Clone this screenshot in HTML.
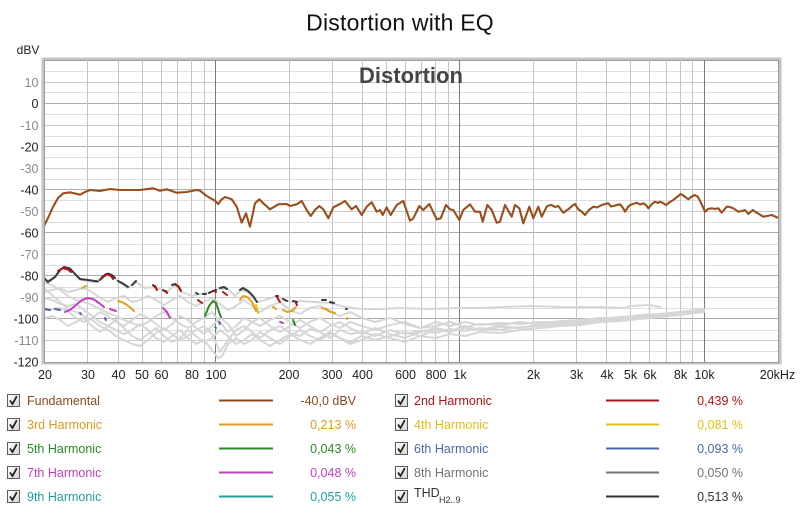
<!DOCTYPE html>
<html><head><meta charset="utf-8"><style>
html,body{margin:0;padding:0;background:#fff;}
svg{display:block;font-family:"Liberation Sans",Arial,sans-serif;}
</style></head><body>
<svg width="800" height="516" viewBox="0 0 800 516" xmlns="http://www.w3.org/2000/svg">
<defs>
<clipPath id="pc"><rect x="45" y="60" width="733" height="302"/></clipPath>
<linearGradient id="cb" x1="0" y1="0" x2="1" y2="1"><stop offset="0" stop-color="#ffffff"/><stop offset="1" stop-color="#d4d4d4"/></linearGradient>
<g id="chk"><rect x="0.5" y="0.5" width="12" height="12" fill="url(#cb)" stroke="#5a5a5a" stroke-width="1"/><path d="M3,6.5 L5.5,10 L9.8,2.2" fill="none" stroke="#222" stroke-width="1.8"/></g>
</defs>
<rect width="800" height="516" fill="#fff"/>
<text x="400" y="30.5" font-size="23" text-anchor="middle" fill="#111" letter-spacing="0.2">Distortion with EQ</text>
<text x="28" y="54" font-size="12" text-anchor="middle" fill="#222">dBV</text>

<!-- frame -->
<rect x="43" y="59" width="737" height="304" fill="none" stroke="#c4c4c4" stroke-width="3"/>
<rect x="44.5" y="60.5" width="734" height="302" fill="#fff" stroke="#9a9a9a" stroke-width="1"/>

<!-- horizontal grid -->
<g stroke-width="1" shape-rendering="crispEdges">
<g stroke="#dedede">
<line x1="45" x2="778" y1="71.5" y2="71.5"/><line x1="45" x2="778" y1="92.5" y2="92.5"/><line x1="45" x2="778" y1="114.5" y2="114.5"/><line x1="45" x2="778" y1="136.5" y2="136.5"/><line x1="45" x2="778" y1="157.5" y2="157.5"/><line x1="45" x2="778" y1="179.5" y2="179.5"/><line x1="45" x2="778" y1="200.5" y2="200.5"/><line x1="45" x2="778" y1="222.5" y2="222.5"/><line x1="45" x2="778" y1="244.5" y2="244.5"/><line x1="45" x2="778" y1="265.5" y2="265.5"/><line x1="45" x2="778" y1="287.5" y2="287.5"/><line x1="45" x2="778" y1="308.5" y2="308.5"/><line x1="45" x2="778" y1="330.5" y2="330.5"/><line x1="45" x2="778" y1="351.5" y2="351.5"/>
</g>
<g stroke="#cbcbcb">
<line x1="45" x2="778" y1="82.5" y2="82.5"/><line x1="45" x2="778" y1="125.5" y2="125.5"/><line x1="45" x2="778" y1="168.5" y2="168.5"/><line x1="45" x2="778" y1="211.5" y2="211.5"/><line x1="45" x2="778" y1="254.5" y2="254.5"/><line x1="45" x2="778" y1="297.5" y2="297.5"/><line x1="45" x2="778" y1="340.5" y2="340.5"/>
</g>
<g stroke="#acacac">
<line x1="45" x2="778" y1="103.5" y2="103.5"/><line x1="45" x2="778" y1="146.5" y2="146.5"/><line x1="45" x2="778" y1="189.5" y2="189.5"/><line x1="45" x2="778" y1="232.5" y2="232.5"/><line x1="45" x2="778" y1="275.5" y2="275.5"/><line x1="45" x2="778" y1="318.5" y2="318.5"/>
</g>
<!-- vertical grid -->
<g stroke="#c4c4c4">
<line x1="87.5" x2="87.5" y1="60" y2="362"/><line x1="118.5" x2="118.5" y1="60" y2="362"/><line x1="142.5" x2="142.5" y1="60" y2="362"/><line x1="161.5" x2="161.5" y1="60" y2="362"/><line x1="177.5" x2="177.5" y1="60" y2="362"/><line x1="191.5" x2="191.5" y1="60" y2="362"/><line x1="204.5" x2="204.5" y1="60" y2="362"/>
<line x1="289.5" x2="289.5" y1="60" y2="362"/><line x1="332.5" x2="332.5" y1="60" y2="362"/><line x1="362.5" x2="362.5" y1="60" y2="362"/><line x1="386.5" x2="386.5" y1="60" y2="362"/><line x1="405.5" x2="405.5" y1="60" y2="362"/><line x1="421.5" x2="421.5" y1="60" y2="362"/><line x1="435.5" x2="435.5" y1="60" y2="362"/><line x1="448.5" x2="448.5" y1="60" y2="362"/>
<line x1="533.5" x2="533.5" y1="60" y2="362"/><line x1="576.5" x2="576.5" y1="60" y2="362"/><line x1="606.5" x2="606.5" y1="60" y2="362"/><line x1="630.5" x2="630.5" y1="60" y2="362"/><line x1="649.5" x2="649.5" y1="60" y2="362"/><line x1="666.5" x2="666.5" y1="60" y2="362"/><line x1="680.5" x2="680.5" y1="60" y2="362"/><line x1="692.5" x2="692.5" y1="60" y2="362"/>
</g>
<g stroke="#7a7a7a">
<line x1="215.5" x2="215.5" y1="60" y2="362"/><line x1="459.5" x2="459.5" y1="60" y2="362"/><line x1="704.5" x2="704.5" y1="60" y2="362"/>
</g>
</g>

<text x="411" y="83" font-size="22" font-weight="bold" text-anchor="middle" fill="#454545">Distortion</text>

<g clip-path="url(#pc)" fill="none" stroke-linejoin="round" stroke-linecap="round">
<!-- gray harmonic curves -->
<g stroke="#d6d6d6" stroke-width="2">
<polyline points="45,282 55,277 63,268 70,269 80,280 95,282 104,276 110,274 118,281 128,288 136,282 145,288 155,287 167,292 175,285 182,292 192,296 200,294 210,292 218,289 228,289 235,296 241,290 250,293 257,302 265,300 277,296 290,302 300,301 315,302 330,303 345,307 362,309 380,309 400,308 430,309 459,308 480,308 500,307 533,306 560,307 576,307 600,307 625,308 630,306 650,305 660,307"/>
<polyline points="45,289 52,295 60,302 68,309 76,312 84,316 92,320 100,326 108,330 116,336 124,340 132,344 140,346 148,340 156,333 164,328 172,334 180,340 188,336 196,330 204,326 212,334 220,352 228,340 236,330 244,326 252,332 260,338 270,330 280,326 290,333 300,336 310,329 320,332 330,338 340,330 350,334 362,332 375,336 390,330 405,334 420,331 436,333 450,329 465,331 480,328 500,330 520,327 540,326 560,324 580,322 600,321 620,319 640,317 660,316 680,313 704,311"/>
<polyline points="45,283 52,285 60,290 68,296 76,300 84,302 92,305 100,309 108,313 116,316 124,320 132,323 140,326 148,322 156,316 164,312 172,318 180,324 188,328 196,322 204,318 212,312 220,322 228,332 236,326 244,318 252,322 260,326 270,320 280,316 290,322 300,328 310,322 320,318 330,324 340,328 350,322 362,326 375,330 390,325 405,322 420,328 436,326 450,322 465,327 480,324 500,325 520,322 540,324 560,321 580,320 600,318 620,318 640,315 660,314 680,312 704,310"/>
<polyline points="45,310 52,309 60,308 68,311 76,318 84,322 92,318 100,312 108,316 116,322 124,326 132,320 140,314 148,318 156,324 164,330 172,324 180,316 188,320 196,328 204,334 212,326 220,318 228,324 236,336 244,330 252,322 260,318 270,326 280,332 290,326 300,320 310,326 320,332 330,326 340,322 350,328 362,334 375,328 390,334 405,338 420,332 436,328 450,331 465,326 480,330 500,327 520,328 540,325 560,325 580,323 600,320 620,320 640,318 660,316 680,314 704,312"/>
<polyline points="45,298 52,300 60,304 68,306 76,304 84,310 92,316 100,322 108,326 116,330 124,334 132,330 140,324 148,330 156,338 164,342 172,336 180,330 188,338 196,344 204,340 212,350 218,358 222,356 228,344 236,338 244,344 252,340 260,332 270,338 280,344 290,336 300,330 310,336 320,340 330,334 340,338 350,342 362,336 375,340 390,336 405,332 420,336 436,330 450,332 465,328 480,330 500,326 520,328 540,324 560,322 580,322 600,320 620,318 640,316 660,315 680,313 704,311"/>
<polyline points="45,292 52,290 60,288 68,292 76,290 84,288 92,292 100,298 108,302 116,298 124,296 132,302 140,300 148,296 156,300 164,305 172,300 180,296 188,302 196,306 204,302 212,298 220,304 228,310 236,306 244,300 252,306 260,312 270,306 280,302 290,310 300,314 310,308 320,306 330,312 340,316 350,312 362,318 375,322 390,318 405,324 420,328 436,322 450,326 465,322 480,325 500,323 520,324 540,322 560,322 580,320 600,319 620,317 640,316 660,314 680,312 704,309"/>
<polyline points="45,318 52,316 60,320 68,326 76,322 84,318 92,326 100,332 108,326 116,320 124,328 132,336 140,340 148,334 156,328 164,336 172,342 180,338 188,330 196,336 204,342 212,338 220,330 228,336 236,344 244,340 252,334 260,340 270,346 280,340 290,334 300,340 310,344 320,338 330,332 340,338 350,344 362,340 375,334 390,338 405,342 420,336 436,338 450,334 465,336 480,332 500,333 520,330 540,328 560,326 580,325 600,322 620,321 640,319 660,317 680,315 704,312"/>
</g>

<!-- colored segments -->
<g stroke-width="2">
<g stroke="#3a3a3a">
<polyline points="45,279 48,282 55,277 60,270 64,267 70,268.5 75,274 80,279 88,280 98,281.5"/>
<polyline points="100,280 103,277 108,273.5 112,275 115,278"/>
<polyline points="118,281 122,283 128,287"/>
<polyline points="132,285 136,281"/>
<polyline points="153,285 156,288"/>
<polyline points="163,290 166,292"/>
<polyline points="172,285 175,284 178,286 181,291"/>
<polyline points="196,293 198,294"/><polyline points="203,294 206,294"/>
<polyline points="209,293 213,291 216,290"/>
<polyline points="220,288 224,287 227,289"/>
<polyline points="240,290 243,288 248,291 253,296 257,302"/>
<polyline points="276,296 278,296"/><polyline points="283,299 287,301"/><polyline points="293,301 297,302"/>
<polyline points="322,300 326,300"/><polyline points="330,302 334,303"/><polyline points="346,309 347,309"/>
</g>
<g stroke="#b01414">
<polyline points="58,271 63,268 68,269.5 71,272"/>
<polyline points="102,277 106,274 111,276 113,279"/>
<polyline points="155,286 157,290"/>
<polyline points="176,285 179,287 181,291"/>
<polyline points="166,291 167,293"/>
<polyline points="198,300 202,303"/>
<polyline points="214,291 216,292"/>
<polyline points="223,292 227,295"/>
<polyline points="277,297 280,302"/>
<polyline points="296,303 297,305"/>
</g>
<g stroke="#e0a020">
<polyline points="82,288 86,286"/>
<polyline points="118,301 122,302 127,305 131,308 134,311"/>
<polyline points="240,300 243,296 247,297 252,302 256,311"/>
<polyline points="273,307 276,309"/><polyline points="283,310 287,312 292,311 296,307"/>
<polyline points="322,308 326,309 331,312 335,313"/>
<polyline points="347,318 347,319"/>
</g>
<g stroke="#e0c010">
<polyline points="256,305 258,313"/>
</g>
<g stroke="#2a8a2a">
<polyline points="205,316 209,306 213,301 216,303 219,312 221,317"/>
<polyline points="293,320 295,325"/>
</g>
<g stroke="#c040c0">
<polyline points="65,312 70,310 76,305 82,300 88,298 94,299.5 99,303 104,307"/>
<polyline points="110,309 116,311"/>
<polyline points="163,308 167,312 170,318"/>
<polyline points="280,322 283,323"/>
</g>
<g stroke="#4a68a8">
<polyline points="45,309 50,310"/><polyline points="55,309 60,310"/><polyline points="80,313 81,314"/><polyline points="105,318 106,320"/><polyline points="219,322 220,324"/>
</g>
<g stroke="#20a0a0">
<polyline points="215,327 216,328"/>
</g>
</g>

<!-- fundamental -->
<polyline stroke="#9a4e1c" stroke-width="2.1" points="44,226 48,218 53,207 58,198 63.3,193.3 70,192.3 75,193.5 80,194.7 85,192 90,190 100,191 110,189 120,190 130,190 140,190 153,188.3 160,190.7 166.7,189.3 176.7,192.7 186.7,192 196.7,190 200,190.7 203.3,193.3 206.7,196 211,198.5 215,200.7 218.3,204 221,200 225,197 231.7,199.3 236.7,206.7 241.7,222.7 246,213.3 250,226.7 255,203.3 259.3,199.3 263.3,203.3 270,209.3 278.3,204.3 286.7,204 290,206 296.7,204.3 301.7,201 306.7,210 310.7,216 315,210 319.3,206 323.3,209.3 328.3,218.3 333.3,207.3 340,204 345,201 351.7,209.3 356,206 361.7,215 366.7,206.7 371.7,202.3 376.7,211.7 380,210 382.7,215 386.7,207.3 390.7,215 396.7,205 403.3,201 410,220.7 413.3,218.3 419.3,206 423.3,210 429.3,204 436.7,219.3 440.7,218.3 446,205 450,209.3 453.3,210 459.3,220 463.3,210 470,204.3 475,211.7 480,211.7 482.7,221.7 487.3,205 491.7,210 496.7,222.7 500,221.7 505,205 511.7,216.7 515,205 519.3,208.3 523.3,223.3 529.3,206.7 533.3,218.3 538.3,206.7 541.7,216.7 546.7,206.7 549,205.5 551.7,205 555,207 558.3,206 563.3,212.7 568.3,209.3 572,206 575,204 578.3,209.3 581,211 585,215 589,210 593.3,206.7 597,207.5 601.7,205 605,204 608.3,203.3 611,206.5 613.3,206 617,205 620,204.3 623,208 625,211.7 628,207 630,205 633,204 636.7,202.7 640,204.5 643.3,203.3 646,205 648.3,208.3 652,204 655,201.7 658,203 660,201.7 663,203 666,205 670,202 673.3,200 677,197 680.7,194 684,196 688.3,199.3 691,197 695,195 698,197 700,200.7 702,205 705,211.7 708,209 711.7,208.3 715,209 718.3,208.3 721.7,212.7 726.7,206.7 730,207 733.3,208.3 738.3,211.7 742,211 745,210 748.3,214 752.7,210 755,211.7 759,214 763.3,216.7 767,216 771.7,215 775,216.5 778,217.7"/>
</g>

<!-- Y labels -->
<g font-size="12.5" text-anchor="end">
<text x="38.5" y="87" fill="#8a8a8a">10</text>
<text x="38.5" y="108" fill="#222">0</text>
<text x="38.5" y="130" fill="#8a8a8a">-10</text>
<text x="38.5" y="151.5" fill="#222">-20</text>
<text x="38.5" y="173" fill="#8a8a8a">-30</text>
<text x="38.5" y="194.5" fill="#222">-40</text>
<text x="38.5" y="216" fill="#8a8a8a">-50</text>
<text x="38.5" y="237.5" fill="#222">-60</text>
<text x="38.5" y="259" fill="#8a8a8a">-70</text>
<text x="38.5" y="280.5" fill="#222">-80</text>
<text x="38.5" y="302" fill="#8a8a8a">-90</text>
<text x="38.5" y="323.5" fill="#222">-100</text>
<text x="38.5" y="345" fill="#8a8a8a">-110</text>
<text x="38.5" y="366.5" fill="#222">-120</text>
</g>
<!-- X labels -->
<g font-size="12.5" text-anchor="middle" fill="#222">
<text x="45" y="379">20</text>
<text x="88" y="379">30</text>
<text x="118.5" y="379">40</text>
<text x="142" y="379">50</text>
<text x="161.5" y="379">60</text>
<text x="192" y="379">80</text>
<text x="216" y="379">100</text>
<text x="289" y="379">200</text>
<text x="332" y="379">300</text>
<text x="362.5" y="379">400</text>
<text x="405.5" y="379">600</text>
<text x="436" y="379">800</text>
<text x="460" y="379">1k</text>
<text x="533.5" y="379">2k</text>
<text x="576.5" y="379">3k</text>
<text x="607" y="379">4k</text>
<text x="630.5" y="379">5k</text>
<text x="650" y="379">6k</text>
<text x="680.5" y="379">8k</text>
<text x="704.5" y="379">10k</text>
<text x="777.5" y="379">20kHz</text>
</g>

<!-- Legend -->
<g font-size="12.5">
<use href="#chk" x="7" y="394"/><text x="27" y="405" fill="#8a4a1e">Fundamental</text>
<line x1="219" x2="273" y1="400.5" y2="400.5" stroke="#8a4a1e" stroke-width="2"/>
<text x="356" y="405" text-anchor="end" fill="#8a4a1e">-40,0 dBV</text>

<use href="#chk" x="7" y="418"/><text x="27" y="429" fill="#e09a20">3rd Harmonic</text>
<line x1="219" x2="273" y1="424.5" y2="424.5" stroke="#e09a20" stroke-width="2"/>
<text x="356" y="429" text-anchor="end" fill="#e09a20">0,213 %</text>

<use href="#chk" x="7" y="442"/><text x="27" y="453" fill="#2a8a2a">5th Harmonic</text>
<line x1="219" x2="273" y1="448.5" y2="448.5" stroke="#2a8a2a" stroke-width="2"/>
<text x="356" y="453" text-anchor="end" fill="#2a8a2a">0,043 %</text>

<use href="#chk" x="7" y="466"/><text x="27" y="477" fill="#c040c0">7th Harmonic</text>
<line x1="219" x2="273" y1="472.5" y2="472.5" stroke="#c040c0" stroke-width="2"/>
<text x="356" y="477" text-anchor="end" fill="#c040c0">0,048 %</text>

<use href="#chk" x="7" y="490"/><text x="27" y="501" fill="#20a0a0">9th Harmonic</text>
<line x1="219" x2="273" y1="496.5" y2="496.5" stroke="#20a0a0" stroke-width="2"/>
<text x="356" y="501" text-anchor="end" fill="#20a0a0">0,055 %</text>

<use href="#chk" x="395" y="394"/><text x="414" y="405" fill="#b01414">2nd Harmonic</text>
<line x1="606" x2="659" y1="400.5" y2="400.5" stroke="#b01414" stroke-width="2"/>
<text x="743" y="405" text-anchor="end" fill="#b01414">0,439 %</text>

<use href="#chk" x="395" y="418"/><text x="414" y="429" fill="#e0c010">4th Harmonic</text>
<line x1="606" x2="659" y1="424.5" y2="424.5" stroke="#e0c010" stroke-width="2"/>
<text x="743" y="429" text-anchor="end" fill="#e0c010">0,081 %</text>

<use href="#chk" x="395" y="442"/><text x="414" y="453" fill="#4a68a8">6th Harmonic</text>
<line x1="606" x2="659" y1="448.5" y2="448.5" stroke="#4a68a8" stroke-width="2"/>
<text x="743" y="453" text-anchor="end" fill="#4a68a8">0,093 %</text>

<use href="#chk" x="395" y="466"/><text x="414" y="477" fill="#737373">8th Harmonic</text>
<line x1="606" x2="659" y1="472.5" y2="472.5" stroke="#737373" stroke-width="2"/>
<text x="743" y="477" text-anchor="end" fill="#737373">0,050 %</text>

<use href="#chk" x="395" y="490"/><text x="414" y="497" fill="#333">THD</text><text x="439" y="503" font-size="9" fill="#333">H2..9</text>
<line x1="606" x2="659" y1="496.5" y2="496.5" stroke="#333" stroke-width="2"/>
<text x="743" y="501" text-anchor="end" fill="#333">0,513 %</text>
</g>
</svg>
</body></html>
